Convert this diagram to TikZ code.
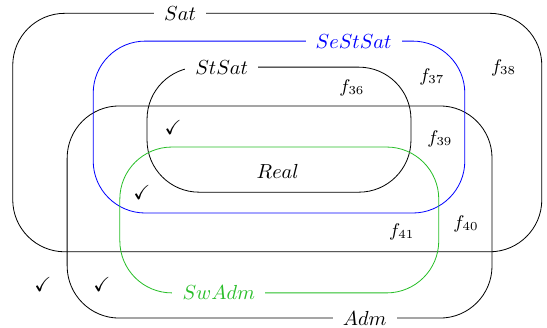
\documentclass[tikz,border=0pt]{standalone}
\usepackage{amssymb}
\usetikzlibrary{positioning}
\definecolor{swgreen}{RGB}{40,190,40}

\begin{document}
\begin{tikzpicture}[set/.style={draw,rounded corners=0.9cm},lbl/.style={fill=white,inner xsep=5pt,inner ysep=1pt},small/.style={font=\small}]
\useasboundingbox (0,0) rectangle (9.45,5.65);
% the sets
\draw[set] (0.22,1.30) rectangle (9.36,5.42);
\draw[set] (1.16,0.155) rectangle (8.50,3.82);
\draw[set,blue] (1.61,1.97) rectangle (8.03,4.94);
\draw[set] (2.54,2.33) rectangle (7.10,4.49);
\draw[set,swgreen] (2.07,0.59) rectangle (7.58,3.11);
% set names on the borders
\node[lbl] (sat) at (3.11,5.42) {$Sat$};
\node[lbl,text=blue] (sestsat) at (6.11,4.94) {$SeStSat$};
\node[lbl] (stsat) at (3.83,4.49) {$StSat$};
\node[lbl,text=swgreen] (swadm) at (3.78,0.59) {$SwAdm$};
\node[lbl] (adm) at (6.30,0.155) {$Adm$};
\node (real) at (4.80,2.68) {$Real$};
% regions
\node[small] (f36) at (6.08,4.13) {$f_{36}$};
\node[small] (f37) at (7.46,4.32) {$f_{37}$};
\node[small] (f38) at (8.70,4.47) {$f_{38}$};
\node[small] (f39) at (7.60,3.25) {$f_{39}$};
\node[small] (f40) at (8.05,1.78) {$f_{40}$};
\node[small] (f41) at (6.94,1.64) {$f_{41}$};
\foreach \p [count=\i] in {(2.99,3.45),(2.45,2.33),(0.74,0.73),(1.76,0.73)}
  \node (chk\i) at \p {$\checkmark$};
\end{tikzpicture}
\end{document}
